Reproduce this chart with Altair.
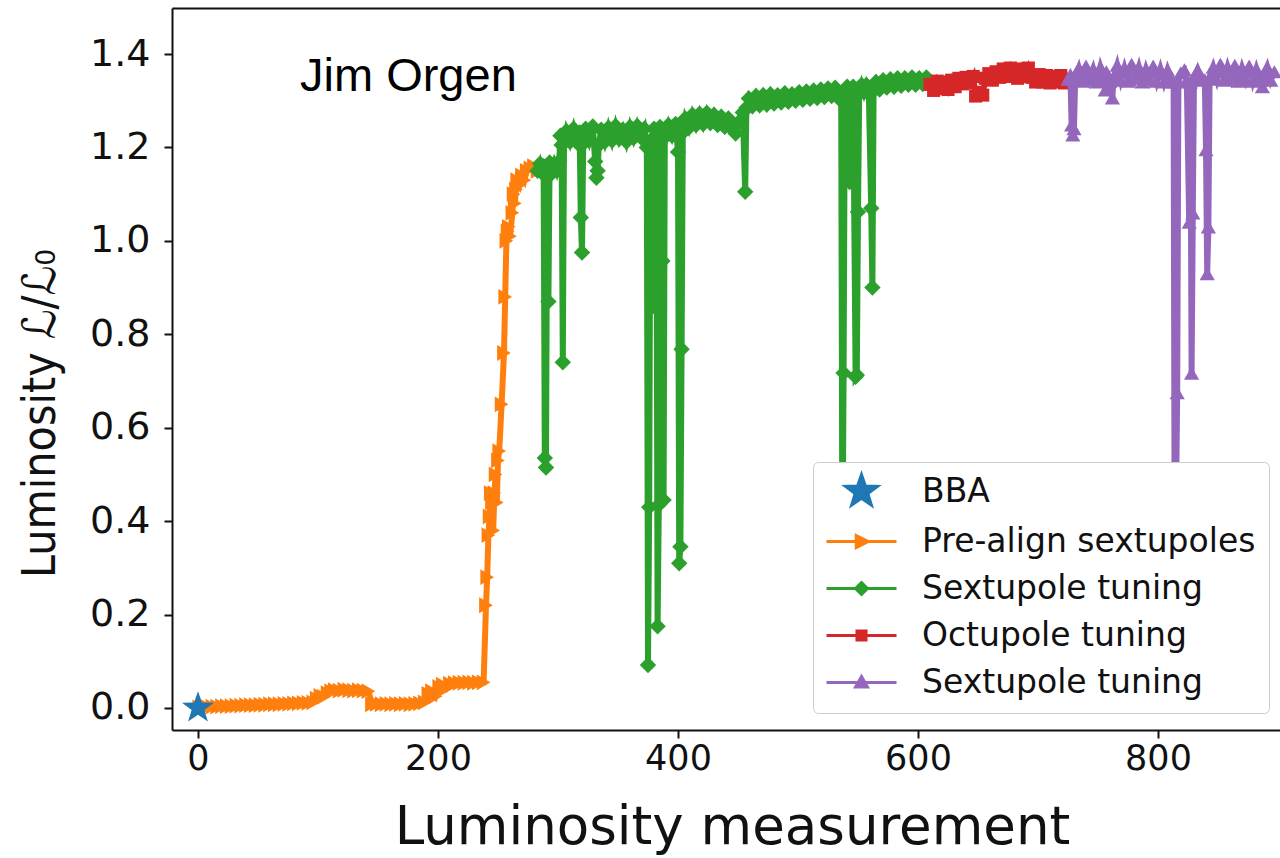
import altair as alt
import pandas as pd

# ---- luminosity measurements (measurement index, L / L0) per tuning stage ----
bba = [(0, 0.0)]

prealign = [
    (1, 0.001), (4, 0.002), (8, 0.002), (12, 0.003), (16, 0.003), (20, 0.004), (24, 0.004),
    (28, 0.004), (32, 0.005), (36, 0.005), (40, 0.006), (44, 0.006), (48, 0.006), (52, 0.007),
    (56, 0.007), (60, 0.008), (64, 0.008), (68, 0.008), (72, 0.009), (76, 0.009), (80, 0.010),
    (84, 0.010), (88, 0.011), (92, 0.011), (96, 0.012), (99, 0.020), (102, 0.026), (105, 0.024),
    (108, 0.032), (111, 0.036), (114, 0.038), (118, 0.037), (122, 0.039), (126, 0.038),
    (130, 0.037), (134, 0.038), (138, 0.037), (142, 0.036), (145, 0.008), (149, 0.009),
    (153, 0.008), (157, 0.009), (161, 0.008), (165, 0.009), (169, 0.008), (173, 0.009),
    (177, 0.008), (181, 0.009), (185, 0.010), (189, 0.012), (192, 0.030), (195, 0.036),
    (198, 0.025), (201, 0.045), (204, 0.050), (207, 0.042), (210, 0.052), (214, 0.053),
    (218, 0.054), (222, 0.054), (226, 0.055), (230, 0.054), (234, 0.055), (238, 0.055),
    (240, 0.220), (241, 0.280), (242, 0.370), (243, 0.410), (244, 0.460), (245, 0.440),
    (246, 0.380), (247, 0.460), (248, 0.500), (249, 0.440), (250, 0.530), (251, 0.550),
    (253, 0.650), (255, 0.760), (256, 0.880), (257, 1.000), (258, 1.020), (259, 1.030),
    (260, 1.010), (262, 1.060), (263, 1.100), (264, 1.080), (265, 1.110), (266, 1.130),
    (268, 1.120), (270, 1.140), (272, 1.130), (274, 1.150), (277, 1.155), (280, 1.160),
    (283, 1.150),
]

sextupole_1 = [
    (283, 1.150), (285, 1.165), (287, 1.145), (288, 1.160), (289, 0.535), (290, 0.515),
    (291, 1.155), (292, 0.870), (293, 1.168), (295, 1.145), (297, 1.165), (299, 1.150),
    (301, 1.170), (302, 1.225), (303, 1.205), (304, 0.740), (305, 1.210), (307, 1.235),
    (310, 1.212), (313, 1.240), (316, 1.210), (318, 1.232), (319, 1.050), (320, 0.975),
    (321, 1.208), (323, 1.240), (326, 1.215), (329, 1.245), (331, 1.170), (332, 1.135),
    (333, 1.150), (334, 1.205), (336, 1.238), (339, 1.212), (342, 1.242), (345, 1.215),
    (348, 1.246), (351, 1.218), (354, 1.238), (357, 1.212), (360, 1.244), (363, 1.220),
    (366, 1.246), (369, 1.222), (372, 1.240), (374, 1.200), (375, 0.092), (376, 0.430),
    (377, 1.215), (379, 0.860), (380, 1.240), (382, 1.180), (383, 0.175), (384, 0.435),
    (385, 1.244), (387, 0.957), (388, 0.445), (389, 1.222), (392, 1.248), (395, 1.225),
    (398, 1.250), (400, 1.190), (401, 0.310), (402, 0.345), (403, 0.768), (404, 1.232),
    (406, 1.262), (409, 1.242), (412, 1.270), (415, 1.248), (418, 1.272), (421, 1.250),
    (424, 1.274), (427, 1.252), (430, 1.270), (433, 1.248), (436, 1.266), (439, 1.244),
    (442, 1.262), (445, 1.240), (448, 1.230), (451, 1.255), (454, 1.275), (456, 1.105),
    (457, 1.285), (459, 1.305), (462, 1.288), (465, 1.310), (468, 1.290), (471, 1.312),
    (474, 1.292), (477, 1.314), (480, 1.294), (483, 1.312), (486, 1.296), (489, 1.316),
    (492, 1.298), (495, 1.314), (498, 1.300), (501, 1.318), (504, 1.302), (507, 1.320),
    (510, 1.304), (513, 1.322), (516, 1.306), (519, 1.324), (522, 1.308), (525, 1.326),
    (528, 1.310), (531, 1.328), (534, 1.312), (536, 1.300), (537, 0.300), (538, 0.717),
    (539, 1.312), (541, 1.330), (543, 1.126), (544, 1.314), (546, 1.330), (548, 0.709),
    (549, 0.713), (550, 1.062), (551, 1.316), (553, 1.334), (555, 1.318), (557, 1.334),
    (559, 1.320), (561, 1.070), (562, 0.900), (563, 1.322), (565, 1.340), (568, 1.324),
    (571, 1.344), (574, 1.328), (577, 1.346), (580, 1.330), (583, 1.348), (586, 1.332),
    (589, 1.348), (592, 1.334), (595, 1.350), (598, 1.334), (601, 1.348), (604, 1.336),
    (607, 1.350), (610, 1.338),
]

octupole = [
    (610, 1.335), (613, 1.322), (616, 1.342), (619, 1.326), (622, 1.340), (625, 1.324),
    (628, 1.344), (631, 1.330), (634, 1.348), (637, 1.336), (640, 1.350), (643, 1.338),
    (646, 1.352), (648, 1.310), (651, 1.318), (654, 1.312), (656, 1.348), (659, 1.358),
    (662, 1.344), (665, 1.362), (668, 1.350), (671, 1.368), (674, 1.352), (677, 1.370),
    (680, 1.354), (683, 1.348), (686, 1.368), (689, 1.352), (692, 1.370), (695, 1.350),
    (698, 1.340), (701, 1.356), (704, 1.340), (707, 1.354), (710, 1.338), (713, 1.352),
    (716, 1.340), (719, 1.354), (722, 1.338), (725, 1.346),
]

sextupole_2 = [
    (725, 1.346), (727, 1.356), (728, 1.248), (729, 1.227), (730, 1.240), (731, 1.350),
    (734, 1.370), (737, 1.342), (740, 1.374), (743, 1.346), (746, 1.368), (749, 1.340),
    (752, 1.372), (755, 1.348), (756, 1.323), (757, 1.362), (760, 1.342), (762, 1.306),
    (763, 1.350), (766, 1.376), (769, 1.344), (772, 1.370), (775, 1.342), (778, 1.378),
    (781, 1.348), (784, 1.372), (787, 1.340), (790, 1.368), (793, 1.346), (796, 1.374),
    (799, 1.342), (802, 1.368), (805, 1.340), (808, 1.366), (811, 1.344), (813, 1.340),
    (814, 0.200), (816, 0.675), (817, 1.340), (819, 1.360), (822, 1.366), (824, 1.345),
    (826, 1.040), (827, 1.340), (828, 0.717), (829, 1.060), (830, 1.348), (833, 1.366),
    (836, 1.344), (839, 1.345), (840, 1.195), (841, 0.930), (842, 1.030), (843, 1.350),
    (846, 1.372), (849, 1.346), (852, 1.378), (855, 1.344), (858, 1.372), (861, 1.348),
    (864, 1.376), (867, 1.342), (870, 1.370), (873, 1.346), (876, 1.374), (879, 1.342),
    (882, 1.368), (885, 1.344), (887, 1.330), (888, 1.352), (891, 1.372), (894, 1.344),
    (897, 1.362),
]

# ---- legend entries ----
stage_keys = ["BBA", "Pre-align sextupoles", "Sextupole tuning", "Octupole tuning",
              "Sextupole tuning (2)"]
stage_colors = ["#1f77b4", "#ff7f0e", "#2ca02c", "#d62728", "#9467bd"]

# five-pointed star in unit coordinates (Vega has no built-in star)
STAR = ("M0,-1L0.235,-0.324L0.951,-0.309L0.38,0.124L0.588,0.809L0,0.4L-0.588,0.809"
        "L-0.38,0.124L-0.951,-0.309L-0.235,-0.324Z")
# legend keys: a horizontal line segment with the marker in its middle
legend_shapes = [
    "M0,-2.4L0.56,-0.78L2.28,-0.74L0.91,0.3L1.41,1.94L0,0.96L-1.41,1.94L-0.91,0.3"
    "L-2.28,-0.74L-0.56,-0.78Z",
    "M-5,0H5M-0.75,-0.85L0.95,0L-0.75,0.85Z",
    "M-5,0H5M0,-0.85L0.85,0L0,0.85L-0.85,0Z",
    "M-5,0H5M-0.65,-0.65H0.65V0.65H-0.65Z",
    "M-5,0H5M0,-0.85L0.85,0.65H-0.85Z",
]

note = [(85, 1.321, "Jim Orgen")]


def stage_frame(points):
    return pd.DataFrame(points, columns=["n", "lum"])


FONT = "DejaVu Sans"
INK = "#111111"
xscale = alt.Scale(domain=[-21.67, 901.67], nice=False, zero=False)
yscale = alt.Scale(domain=[-0.0471, 1.4985], nice=False, zero=False)

x_axis = alt.Axis(
    values=[0, 200, 400, 600, 800], format="d", grid=False,
    title="Luminosity measurement", titleFont=FONT, titleFontSize=53,
    titleFontWeight="normal", titleColor=INK, titleX=560, titleY=113,
    titleBaseline="alphabetic", titleAlign="center",
    labelFont=FONT, labelFontSize=35, labelColor=INK, labelPadding=3,
    labelFlush=False, labelOverlap=False,
    tickSize=8, tickWidth=2, tickColor=INK, domainWidth=2, domainColor=INK,
)
y_axis = alt.Axis(
    values=[0, 0.2, 0.4, 0.6, 0.8, 1.0, 1.2, 1.4], format=".1f", grid=False,
    title="Luminosity ℒ/ℒ₀", titleFont="DejaVu Sans Condensed, DejaVu Sans",
    titleFontSize=46, titleFontWeight="normal", titleColor=INK,
    titleAngle=270, titleX=-132, titleY=405, titleAlign="center", titleBaseline="middle",
    labelFont=FONT, labelFontSize=38, labelColor=INK, labelPadding=14,
    labelFlush=False, labelOverlap=False,
    tickSize=8, tickWidth=2, tickColor=INK, domainWidth=2, domainColor=INK,
)
top_axis = alt.Axis(orient="top", labels=False, ticks=False, title=None, grid=False,
                    domainWidth=2, domainColor=INK)


def stage_layer(points, color, shape, size, with_axes=False):
    enc_x = alt.X("n:Q", scale=xscale, axis=x_axis if with_axes else None)
    enc_y = alt.Y("lum:Q", scale=yscale, axis=y_axis if with_axes else None)
    return alt.Chart(stage_frame(points)).mark_line(
        color=color, strokeWidth=6, strokeJoin="miter",
        point=alt.OverlayMarkDef(shape=shape, size=size, filled=True, color=color,
                                 opacity=1, strokeWidth=0),
    ).encode(x=enc_x, y=enc_y)


prealign_layer = stage_layer(prealign, stage_colors[1], "triangle-right", 250, True)
sext1_layer = stage_layer(sextupole_1, stage_colors[2], "diamond", 270)
octu_layer = stage_layer(octupole, stage_colors[3], "square", 170)
sext2_layer = stage_layer(sextupole_2, stage_colors[4], "triangle-up", 230)

bba_layer = alt.Chart(stage_frame(bba)).mark_point(
    shape=STAR, size=1130, filled=True, color=stage_colors[0], opacity=1, strokeWidth=0
).encode(x=alt.X("n:Q", scale=xscale, axis=None), y=alt.Y("lum:Q", scale=yscale, axis=None))

note_layer = alt.Chart(pd.DataFrame(note, columns=["n", "lum", "t"])).mark_text(
    align="left", baseline="alphabetic", font="Liberation Sans", fontSize=47, color="black"
).encode(
    x=alt.X("n:Q", scale=xscale, axis=top_axis),
    y=alt.Y("lum:Q", scale=yscale, axis=None),
    text="t:N",
)

legend = alt.Legend(
    title=None, orient="none", legendX=641, legendY=454,
    fillColor="white", strokeColor="#cccccc", cornerRadius=5, padding=13,
    labelFont=FONT, labelFontSize=33, labelColor=INK, labelLimit=600,
    labelOffset=44, symbolOffset=19, symbolSize=196, symbolStrokeWidth=3,
    rowPadding=13, labelExpr="replace(datum.value, ' (2)', '')",
)
key_layer = alt.Chart(pd.DataFrame({"stage": stage_keys})).transform_filter(
    "false"
).mark_point(filled=True, opacity=1).encode(
    fill=alt.Fill("stage:N", scale=alt.Scale(domain=stage_keys, range=stage_colors),
                  legend=legend),
    stroke=alt.Stroke("stage:N", scale=alt.Scale(domain=stage_keys, range=stage_colors),
                      legend=legend),
    shape=alt.Shape("stage:N", scale=alt.Scale(domain=stage_keys, range=legend_shapes),
                    legend=legend),
)

chart = alt.layer(
    prealign_layer, sext1_layer, octu_layer, sext2_layer, bba_layer, note_layer, key_layer
).resolve_axis(
    x="independent", y="independent"
).properties(
    width=1108, height=722,
    autosize=alt.AutoSizeParams(type="none"),
    padding={"left": 172, "top": 8, "right": 0, "bottom": 128},
    background="white",
).configure_view(stroke=None)

chart.save("out.html", embed_options={"renderer": "svg", "actions": False})
